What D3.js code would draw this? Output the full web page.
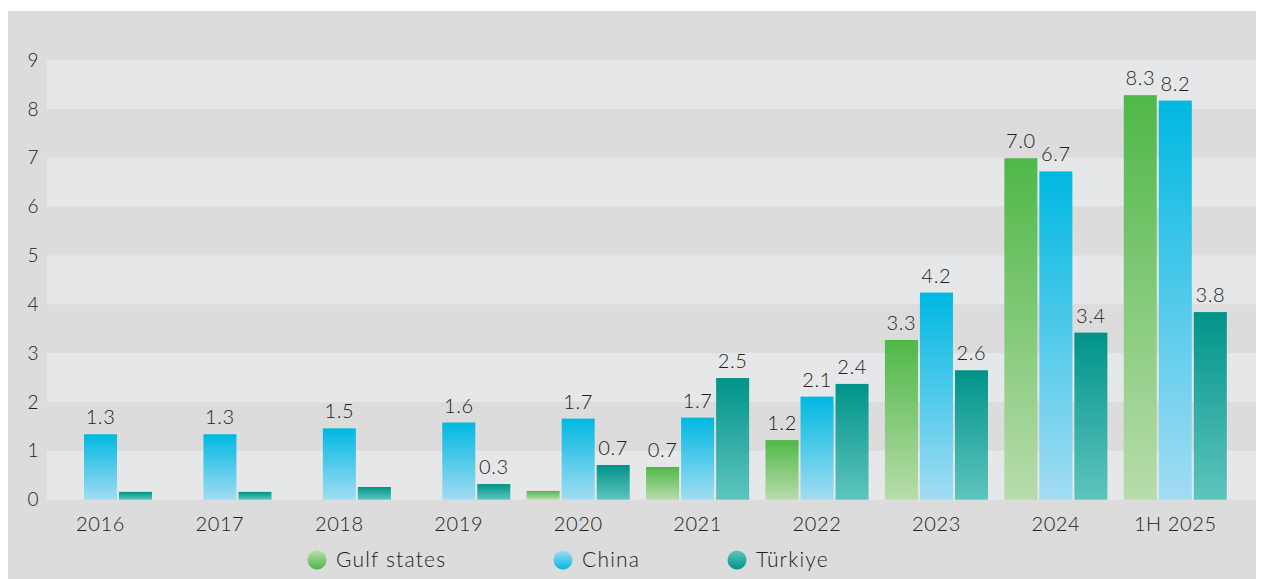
<!DOCTYPE html>
<html>
<head>
<meta charset="utf-8">
<script src="https://cdn.jsdelivr.net/npm/d3@7"></script>
<style>
  body { margin: 0; background: #fff; }
  text { font-family: Lato, "Open Sans", sans-serif; font-weight: 300; fill: #222; letter-spacing: 0.6px; }
</style>
</head>
<body>
<svg id="chart" width="1261" height="579"></svg>
<script>
var years = ["2016", "2017", "2018", "2019", "2020", "2021", "2022", "2023", "2024", "1H 2025"];
var gulf    = [0, 0, 0, 0, 0.18, 0.67, 1.22, 3.27, 6.99, 8.28];
var china   = [1.34, 1.34, 1.46, 1.58, 1.66, 1.68, 2.11, 4.24, 6.72, 8.17];
var turkiye = [0.16, 0.16, 0.26, 0.32, 0.71, 2.49, 2.37, 2.65, 3.42, 3.84];
var seriesNames = ["Gulf states", "China", "Türkiye"];
var yTicks = [0, 1, 2, 3, 4, 5, 6, 7, 8, 9];

var colors = [
  { top: "#4fb848", bottom: "#b8dcab" },
  { top: "#00b8e1", bottom: "#a2dcf3" },
  { top: "#00938a", bottom: "#5ec5bd" }
];

var svg = d3.select("#chart");
var plotLeft = 47, plotRight = 1256;

// gradients, one per series
var defs = svg.append("defs");
colors.forEach(function(c, i) {
  var gr = defs.append("linearGradient")
    .attr("id", "grad" + i)
    .attr("x1", 0).attr("y1", 0).attr("x2", 0).attr("y2", 1);
  gr.append("stop").attr("offset", "0%").attr("stop-color", c.top);
  gr.append("stop").attr("offset", "100%").attr("stop-color", c.bottom);
  var lg = defs.append("linearGradient")
    .attr("id", "lgrad" + i)
    .attr("x1", 0).attr("y1", 0).attr("x2", 0).attr("y2", 1);
  lg.append("stop").attr("offset", "0%").attr("stop-color", c.bottom);
  lg.append("stop").attr("offset", "100%").attr("stop-color", c.top);
});

// panel
svg.append("rect")
  .attr("x", 8).attr("y", 11)
  .attr("width", 1248).attr("height", 568)
  .attr("fill", "#dcdcdc");

var y = d3.scaleLinear().domain([0, 9]).range([499.7, 60]);

var x = d3.scaleBand()
  .domain(years)
  .range([40.8, 1235])
  .paddingInner(0.137)
  .paddingOuter(0.0685);

var xs = d3.scaleBand()
  .domain([0, 1, 2])
  .range([0, x.bandwidth()])
  .paddingInner(0.057);

// alternating bands
svg.append("g").selectAll("rect")
  .data(yTicks.slice(0, -1).filter(function(d) { return d % 2 === 0; }))
  .enter().append("rect")
  .attr("x", plotLeft)
  .attr("width", plotRight - plotLeft)
  .attr("y", function(d) { return y(d + 1); })
  .attr("height", function(d) { return y(d) - y(d + 1); })
  .attr("fill", "#e6e7e9");

// y tick labels
svg.append("g").selectAll("text")
  .data(yTicks)
  .enter().append("text")
  .attr("x", 39)
  .attr("y", function(d) { return y(d); })
  .attr("dy", "0.35em")
  .attr("text-anchor", "end")
  .style("font-size", "19px")
  .text(function(d) { return d; });

var table = years.map(function(yr, i) {
  return { year: yr, values: [gulf[i], china[i], turkiye[i]] };
});

var groups = svg.append("g").selectAll("g")
  .data(table)
  .enter().append("g")
  .attr("transform", function(d) { return "translate(" + x(d.year) + ",0)"; });

var cells = groups.selectAll("g")
  .data(function(d) { return d.values.map(function(v, k) { return { k: k, v: v }; }); })
  .enter().append("g");

cells.filter(function(d) { return d.v > 0; })
  .append("rect")
  .attr("x", function(d) { return xs(d.k); })
  .attr("width", xs.bandwidth())
  .attr("y", function(d) { return y(d.v); })
  .attr("height", function(d) { return y(0) - y(d.v); })
  .attr("fill", function(d) { return "url(#grad" + d.k + ")"; });

// value labels (small values are left unlabelled)
cells.filter(function(d) { return d.v >= 0.3; })
  .append("text")
  .attr("x", function(d) { return xs(d.k) + xs.bandwidth() / 2; })
  .attr("y", function(d) { return y(d.v) - 10; })
  .attr("text-anchor", "middle")
  .style("font-size", "20px")
  .text(function(d) { return d3.format(".1f")(d.v); });

// x labels
svg.append("g").selectAll("text")
  .data(years)
  .enter().append("text")
  .attr("x", function(d) { return x(d) + xs(1) + xs.bandwidth() / 2; })
  .attr("y", 531)
  .attr("text-anchor", "middle")
  .style("font-size", "20px")
  .text(function(d) { return d; });

// legend
var legendX = [317, 563, 737];
var legend = svg.append("g").selectAll("g")
  .data(seriesNames)
  .enter().append("g")
  .attr("transform", function(d, i) { return "translate(" + legendX[i] + ",560)"; });

legend.append("circle")
  .attr("r", 9.5)
  .attr("fill", function(d, i) { return "url(#lgrad" + i + ")"; });

legend.append("text")
  .attr("x", 19)
  .attr("dy", "0.35em")
  .style("font-size", "21px")
  .style("letter-spacing", "1.2px")
  .text(function(d) { return d; });
</script>
</body>
</html>
